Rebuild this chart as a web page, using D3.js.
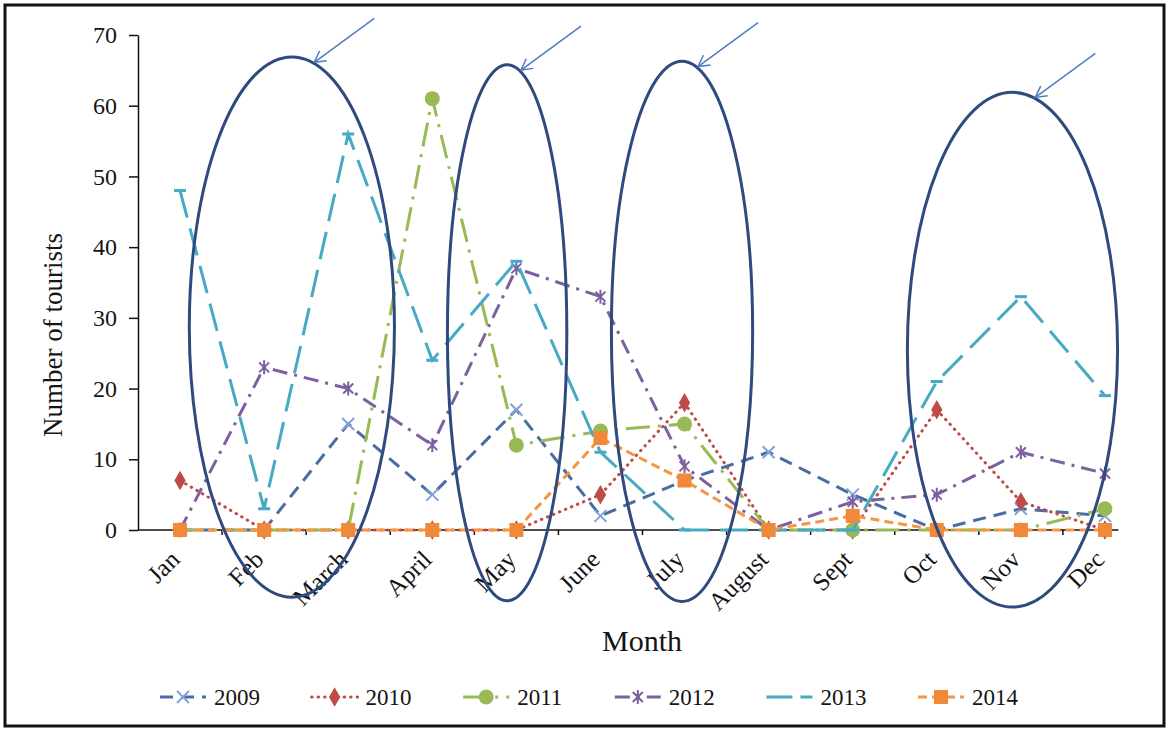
<!DOCTYPE html>
<html>
<head>
<meta charset="utf-8">
<script src="https://cdn.jsdelivr.net/npm/d3@7"></script>
<style>
  body { margin: 0; background: #fff; }
  svg { display: block; }
  text { font-family: "Liberation Serif", "Times New Roman", serif; fill: #151515; }
</style>
</head>
<body>
<svg id="chart" width="1169" height="730"></svg>
<script>
// Monthly tourist counts per year
const months = ["Jan", "Feb", "March", "April", "May", "June", "July", "August", "Sept", "Oct", "Nov", "Dec"];
const years = ["2009", "2010", "2011", "2012", "2013", "2014"];
const v2009 = [0, 0, 15, 5, 17, 2, 7, 11, 5, 0, 3, 2];
const v2010 = [7, 0, 0, 0, 0, 5, 18, 0, 0, 17, 4, 0];
const v2011 = [0, 0, 0, 61, 12, 14, 15, 0, 0, 0, 0, 3];
const v2012 = [0, 23, 20, 12, 37, 33, 9, 0, 4, 5, 11, 8];
const v2013 = [48, 3, 56, 24, 38, 11, 0, 0, 0, 21, 33, 19];
const v2014 = [0, 0, 0, 0, 0, 13, 7, 0, 2, 0, 0, 0];
const yTicks = [0, 10, 20, 30, 40, 50, 60, 70];

// Highlighted periods: centre (month index), centre value, half-width (months), half-height (tourists)
const ellipseCentre = [1.33, 3.89, 5.97, 9.9];
const ellipseMid = [28.7, 27.9, 28.1, 25.5];
const ellipseRx = [1.22, 0.71, 0.84, 1.25];
const ellipseRy = [38.2, 37.9, 38.2, 36.4];

const W = 1169, H = 730;
const plot = { left: 138, right: 1147, top: 35, bottom: 530 };

const svg = d3.select("#chart");

const x = d3.scaleBand().domain(months).range([plot.left, plot.right]);
const cx = m => x(m) + x.bandwidth() / 2;
const y = d3.scaleLinear().domain([0, 70]).range([plot.bottom, plot.top]);
// month index -> pixel (for annotations placed between categories)
const xi = d3.scaleLinear().domain([0, 1]).range([cx(months[0]), cx(months[1])]);

// outer frame
svg.append("rect")
  .attr("x", 5).attr("y", 5).attr("width", W - 10).attr("height", H - 9)
  .attr("fill", "none").attr("stroke", "#111").attr("stroke-width", 3);

// y axis
const yAxis = svg.append("g")
  .attr("transform", `translate(${plot.left},0)`)
  .call(d3.axisLeft(y).tickValues(yTicks).tickSize(9).tickSizeOuter(0).tickPadding(12));
yAxis.select(".domain").attr("stroke", "#111").attr("stroke-width", 1.5);
yAxis.selectAll(".tick line").attr("stroke", "#111").attr("stroke-width", 1.5);
yAxis.selectAll(".tick text").attr("font-size", 24).attr("font-family", "Liberation Serif").attr("fill", "#151515");

// x axis line, tick marks between categories
const xEnd = cx(months[months.length - 1]) + x.bandwidth() * 0.16;
svg.append("line")
  .attr("x1", plot.left).attr("x2", xEnd)
  .attr("y1", y(0)).attr("y2", y(0))
  .attr("stroke", "#111").attr("stroke-width", 1.5);
svg.append("g").selectAll("line")
  .data(months.slice(1))
  .join("line")
  .attr("x1", d => x(d)).attr("x2", d => x(d))
  .attr("y1", y(0)).attr("y2", y(0) + 5)
  .attr("stroke", "#111").attr("stroke-width", 1.5);

// rotated month labels
svg.append("g").selectAll("text")
  .data(months)
  .join("text")
  .attr("transform", d => `translate(${cx(d) + 1},${y(0) + 31}) rotate(-45)`)
  .attr("text-anchor", "end")
  .attr("font-size", 25)
  .text(d => d);

// axis titles
svg.append("text")
  .attr("transform", `translate(62,335) rotate(-90)`)
  .attr("text-anchor", "middle")
  .attr("font-size", 27)
  .text("Number of tourists");
svg.append("text")
  .attr("x", 642).attr("y", 651)
  .attr("text-anchor", "middle")
  .attr("font-size", 30)
  .text("Month");

// series styles
const series = [
  { name: years[0], values: v2009, color: "#4A6CA6", dash: "13,8", width: 3, cap: "butt", marker: "x", mcolor: "#7FA3D6" },
  { name: years[1], values: v2010, color: "#BE4B48", dash: "0.5,6", width: 3, cap: "round", marker: "diamond", mcolor: "#BE4B48" },
  { name: years[2], values: v2011, color: "#98B954", dash: "24,8,3,8", width: 3, cap: "butt", marker: "circle", mcolor: "#98B954" },
  { name: years[3], values: v2012, color: "#7D60A0", dash: "15,7,3,7", width: 3, cap: "butt", marker: "star", mcolor: "#7D60A0" },
  { name: years[4], values: v2013, color: "#46AAC5", dash: "28,11", width: 3, cap: "butt", marker: "dash", mcolor: "#46AAC5" },
  { name: years[5], values: v2014, color: "#F59644", dash: "9,5", width: 3, cap: "butt", marker: "square", mcolor: "#F08A3A" }
];

function drawMarker(g, type, color) {
  if (type === "x") {
    g.append("path").attr("d", "M-6,-6L6,6M-6,6L6,-6").attr("stroke", color).attr("stroke-width", 2).attr("fill", "none");
  } else if (type === "star") {
    g.append("path").attr("d", "M-5,-5L5,5M-5,5L5,-5M0,-7L0,7").attr("stroke", color).attr("stroke-width", 2).attr("fill", "none");
  } else if (type === "diamond") {
    g.append("path").attr("d", d3.symbol(d3.symbolDiamond, 110)()).attr("fill", color);
  } else if (type === "circle") {
    g.append("circle").attr("r", 7.5).attr("fill", color);
  } else if (type === "dash") {
    g.append("path").attr("d", "M-6,0L6,0").attr("stroke", color).attr("stroke-width", 3);
  } else if (type === "square") {
    g.append("rect").attr("x", -7).attr("y", -7).attr("width", 14).attr("height", 14).attr("fill", color);
  }
}

const line = d3.line().x((d, i) => cx(months[i])).y(d => y(d));

const seriesG = svg.append("g");
series.forEach(s => {
  const g = seriesG.append("g");
  g.append("path")
    .attr("d", line(s.values))
    .attr("fill", "none")
    .attr("stroke", s.color)
    .attr("stroke-width", s.width)
    .attr("stroke-dasharray", s.dash)
    .attr("stroke-linecap", s.cap);
  s.values.forEach((v, i) => {
    const mg = g.append("g").attr("transform", `translate(${cx(months[i])},${y(v)})`);
    drawMarker(mg, s.marker, s.mcolor);
  });
});

// highlight ellipses with pointer arrows
const defs = svg.append("defs");
defs.append("marker")
  .attr("id", "arrowHead")
  .attr("viewBox", "-12 -8 14 16")
  .attr("refX", 0).attr("refY", 0)
  .attr("markerWidth", 14).attr("markerHeight", 16)
  .attr("markerUnits", "userSpaceOnUse")
  .attr("orient", "auto")
  .append("path")
  .attr("d", "M-11,-6L0,0L-11,6")
  .attr("fill", "none").attr("stroke", "#4F7BBE").attr("stroke-width", 1.5);

const annot = svg.append("g");
ellipseCentre.forEach((c, i) => {
  const ex = xi(c), ey = y(ellipseMid[i]);
  const rx = xi(ellipseRx[i]) - xi(0);
  const ry = y(0) - y(ellipseRy[i]);
  annot.append("ellipse")
    .attr("cx", ex).attr("cy", ey).attr("rx", rx).attr("ry", ry)
    .attr("fill", "none").attr("stroke", "#2E4A7E").attr("stroke-width", 3);
  // arrow tip touches the ellipse just right of its top
  const t = 0.2;
  const hx = ex + rx * Math.sin(t) + 2, hy = ey - ry * Math.cos(t);
  annot.append("line")
    .attr("x1", hx + 60).attr("y1", hy - 44)
    .attr("x2", hx).attr("y2", hy)
    .attr("stroke", "#4F7BBE").attr("stroke-width", 1.5)
    .attr("marker-end", "url(#arrowHead)");
});

// legend
const legend = svg.append("g").attr("transform", "translate(160,697)");
const step = 151.6;
series.forEach((s, i) => {
  const g = legend.append("g").attr("transform", `translate(${i * step},0)`);
  g.append("line")
    .attr("x1", 0).attr("x2", 46).attr("y1", 0).attr("y2", 0)
    .attr("stroke", s.color).attr("stroke-width", s.width)
    .attr("stroke-dasharray", s.marker === "dash" ? "26,8" : s.dash)
    .attr("stroke-linecap", s.cap);
  const mg = g.append("g").attr("transform", "translate(23,0)");
  if (s.marker !== "dash") drawMarker(mg, s.marker, s.mcolor);
  g.append("text")
    .attr("x", 54).attr("y", 8)
    .attr("font-size", 23)
    .text(s.name);
});
</script>
</body>
</html>
